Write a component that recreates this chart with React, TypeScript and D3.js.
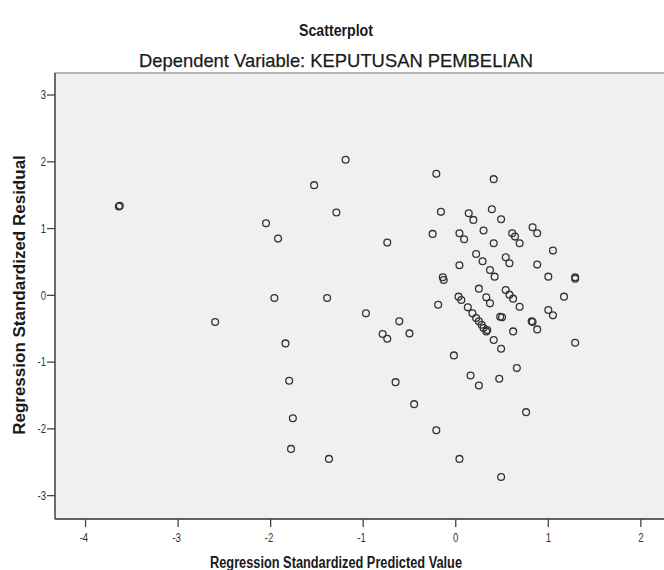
import React from "react";
import * as d3 from "d3";

const W = 664;
const H = 570;
const PLOT = { left: 55, top: 73, right: 664, bottom: 519 };
const FONT = "'Liberation Sans', Arial, sans-serif";

const X_DOMAIN = [-4.33, 2.25];
const Y_DOMAIN = [-3.35, 3.33];
const X_TICKS = [-4, -3, -2, -1, 0, 1, 2];
const Y_TICKS = [-3, -2, -1, 0, 1, 2, 3];

// Regression standardized predicted value (x) / residual (y)
const predicted = [
  -3.64, -3.63, -2.6, -2.05, -1.92, -1.96, -1.84, -1.8, -1.76, -1.78,
  -1.53, -1.29, -1.19, -1.39, -1.37, -0.97, -0.74, -0.79, -0.74, -0.61,
  -0.5, -0.65, -0.45, -0.25, -0.21, -0.21, -0.16, -0.19, -0.14, -0.13,
  -0.02, 0.04, 0.04, 0.04, 0.03, 0.06, 0.09, 0.13, 0.14, 0.16,
  0.18, 0.19, 0.22, 0.22, 0.25, 0.25, 0.25, 0.28, 0.29, 0.3,
  0.3, 0.33, 0.33, 0.34, 0.37, 0.37, 0.39, 0.41, 0.41, 0.41,
  0.42, 0.47, 0.48, 0.49, 0.49, 0.49, 0.5, 0.54, 0.54, 0.58,
  0.58, 0.61, 0.62, 0.62, 0.64, 0.66, 0.69, 0.69, 0.76, 0.82,
  0.83, 0.83, 0.88, 0.88, 0.88, 1.0, 1.0, 1.05, 1.05, 1.17,
  1.29, 1.29, 1.29,
];
const residual = [
  1.33, 1.34, -0.4, 1.08, 0.85, -0.04, -0.72, -1.28, -1.84, -2.3,
  1.65, 1.24, 2.03, -0.04, -2.45, -0.27, 0.79, -0.58, -0.65, -0.39,
  -0.57, -1.3, -1.63, 0.92, 1.82, -2.02, 1.25, -0.14, 0.27, 0.23,
  -0.9, 0.93, 0.45, -2.45, -0.02, -0.07, 0.84, -0.18, 1.23, -1.2,
  -0.27, 1.13, 0.62, -0.34, 0.1, -0.39, -1.35, -0.44, 0.51, 0.97,
  -0.49, -0.03, -0.54, -0.52, -0.12, 0.38, 1.29, 1.74, 0.78, -0.67,
  0.28, -1.25, -0.32, 1.14, -0.8, -2.72, -0.33, 0.57, 0.08, 0.48,
  0.01, 0.93, -0.05, -0.54, 0.88, -1.09, 0.78, -0.17, -1.75, -0.39,
  1.02, -0.4, 0.93, 0.46, -0.51, 0.28, -0.22, 0.67, -0.3, -0.02,
  0.27, 0.25, -0.71,
];

export default function App() {
  const x = d3.scaleLinear().domain(X_DOMAIN).range([PLOT.left, PLOT.right]);
  const y = d3.scaleLinear().domain(Y_DOMAIN).range([PLOT.bottom, PLOT.top]);
  const points = predicted.map((p, i) => ({ p, r: residual[i] }));

  return (
    <svg
      width={W}
      height={H}
      style={{ position: "absolute", left: 0, top: 0, background: "#fff" }}
      fontFamily={FONT}
    >
      {/* the source is squeezed sideways, so horizontal text gets a fixed length */}
      <text x={336} y={36} textAnchor="middle" fontSize={16} fontWeight="bold" fill="#1a1a1a"
        textLength={74} lengthAdjust="spacingAndGlyphs">
        Scatterplot
      </text>
      <text x={336} y={67} textAnchor="middle" fontSize={19} fill="#1a1a1a"
        textLength={394} lengthAdjust="spacingAndGlyphs" stroke="#1a1a1a" strokeWidth={0.25}>
        Dependent Variable: KEPUTUSAN PEMBELIAN
      </text>

      <rect
        x={PLOT.left}
        y={PLOT.top}
        width={PLOT.right - PLOT.left + 2}
        height={PLOT.bottom - PLOT.top}
        fill="#f0f0f0"
        stroke="#777"
        strokeWidth={1}
      />
      {/* axes */}
      <line x1={PLOT.left} x2={PLOT.left} y1={PLOT.top} y2={PLOT.bottom} stroke="#444" strokeWidth={1.3} />
      <line x1={PLOT.left} x2={PLOT.right} y1={PLOT.bottom} y2={PLOT.bottom} stroke="#444" strokeWidth={1.3} />

      {Y_TICKS.map((t) => (
        <g key={"y" + t}>
          <line x1={PLOT.left - 8} x2={PLOT.left} y1={y(t)} y2={y(t)} stroke="#444" strokeWidth={1.3} />
          <text x={PLOT.left - 9} y={y(t)} dy="0.35em" textAnchor="end" fontSize={12} fill="#333"
            transform={`translate(${PLOT.left - 9},0) scale(0.8,1) translate(${-(PLOT.left - 9)},0)`}>
            {t}
          </text>
        </g>
      ))}
      {X_TICKS.map((t) => (
        <g key={"x" + t}>
          <line x1={x(t)} x2={x(t)} y1={PLOT.bottom} y2={PLOT.bottom + 8} stroke="#444" strokeWidth={1.3} />
          <text x={x(t) - (t < 0 ? 2 : 0)} y={PLOT.bottom + 23} textAnchor="middle" fontSize={12} fill="#333"
            transform={`translate(${x(t)},0) scale(0.8,1) translate(${-x(t)},0)`}>
            {t}
          </text>
        </g>
      ))}

      {points.map((d, i) => (
        <circle
          key={i}
          cx={x(d.p)}
          cy={y(d.r)}
          r={3.4}
          fill="none"
          stroke="#333"
          strokeWidth={1.3}
        />
      ))}

      <text x={336} y={568} textAnchor="middle" fontSize={16} fontWeight="bold" fill="#1a1a1a"
        textLength={252} lengthAdjust="spacingAndGlyphs">
        Regression Standardized Predicted Value
      </text>
      <text
        transform={`translate(25,295) rotate(-90)`}
        textAnchor="middle"
        fontSize={17}
        fontWeight="bold"
        fill="#1a1a1a"
      >
        Regression Standardized Residual
      </text>
    </svg>
  );
}
